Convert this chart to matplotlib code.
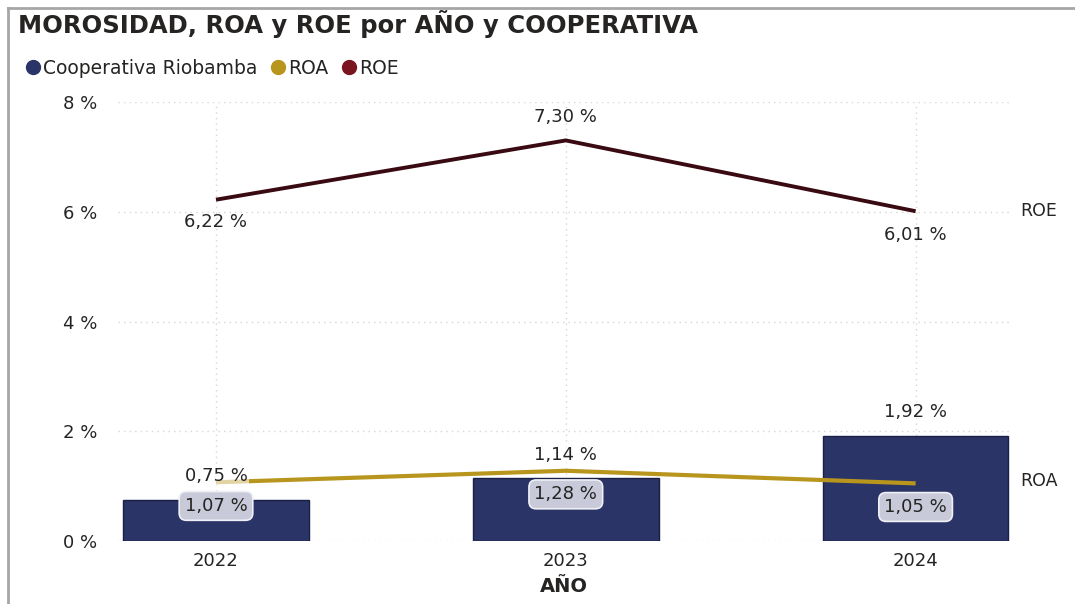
import matplotlib
matplotlib.use("Agg")
import matplotlib.pyplot as plt
from matplotlib.lines import Line2D

years = ["2022", "2023", "2024"]
morosidad = [0.75, 1.14, 1.92]
roa = [1.07, 1.28, 1.05]
roe = [6.22, 7.30, 6.01]
yticks = [0, 2, 4, 6, 8]

navy = "#2b3467"
gold = "#b8961e"
maroon = "#3a0a12"
txt = "#252423"

plt.rcParams['font.family'] = ['DejaVu Sans']


def pct(v):
    return f"{v:.2f} %".replace(".", ",")


fig = plt.figure(figsize=(10.75, 6.04), dpi=100)
ax = fig.add_axes([0.1098, 0.1043, 0.8298, 0.7268])

x = list(range(len(years)))

ax.bar(x, morosidad, width=0.53, color=navy, edgecolor="#1a1f45", linewidth=1, zorder=2)
ax.plot(x, roa, color=gold, lw=3, zorder=3, solid_capstyle="butt")
ax.plot(x, roe, color=maroon, lw=2.8, zorder=3, solid_capstyle="butt")

# bar labels above bars
for i, v in enumerate(morosidad):
    ax.annotate(pct(v), (i, v), xytext=(0, 17), textcoords="offset points",
                ha="center", va="center", fontsize=13, color=txt, zorder=4,
                bbox=dict(boxstyle="square,pad=0.1", fc="white", ec="none", alpha=0.6))

# ROA labels in rounded boxes
for i, v in enumerate(roa):
    ax.annotate(pct(v), (i, v), xytext=(0, -17), textcoords="offset points",
                ha="center", va="center", fontsize=13, color=txt, zorder=5,
                bbox=dict(boxstyle="round,pad=0.3,rounding_size=0.4", fc="#c8cad9",
                          ec="#eef0f6", lw=1.2))

# ROE labels
roe_off = [-16, 17, -17]
for i, v in enumerate(roe):
    ax.annotate(pct(v), (i, v), xytext=(0, roe_off[i]), textcoords="offset points",
                ha="center", va="center", fontsize=13, color=txt, zorder=4)

# series names at the right
ax.text(1.011, roe[-1], "ROE", transform=ax.get_yaxis_transform(),
        ha="left", va="center", fontsize=12.5, color=txt)
ax.text(1.011, roa[-1] + 0.05, "ROA", transform=ax.get_yaxis_transform(),
        ha="left", va="center", fontsize=12.5, color=txt)

ax.set_xlim(-0.28, 2.27)
ax.set_ylim(0, 8)
ax.set_xticks(x)
ax.set_xticklabels(years)
ax.set_yticks(yticks)
ax.set_yticklabels([f"{t} %" for t in yticks])
ax.tick_params(axis="both", length=0, labelsize=13, labelcolor=txt)
ax.tick_params(axis="y", pad=15)
ax.tick_params(axis="x", pad=8)
ax.grid(True, color="#d6d6d6", linestyle=(0, (1, 3)), lw=1, zorder=0)
ax.set_axisbelow(True)
for s in ax.spines.values():
    s.set_visible(False)
ax.set_xlabel("AÑO", fontsize=14, fontweight="bold", color=txt, labelpad=5)

fig.text(0.017, 0.96, "MOROSIDAD, ROA y ROE por AÑO y COOPERATIVA", fontsize=17.5,
         fontweight="bold", color=txt, ha="left", va="center")

handles = [Line2D([], [], ls="none", marker="o", ms=10, color=c)
           for c in (navy, gold, "#7a1520")]
fig.legend(handles, ["Cooperativa Riobamba", "ROA", "ROE"], loc="center left",
           bbox_to_anchor=(0.006, 0.887), ncol=3, frameon=False, fontsize=13.5,
           handletextpad=0.05, columnspacing=0.6, handlelength=1.0, labelcolor=txt)

# frame lines (top and left)
fig.add_artist(Line2D([8 / 1075, 1], [1 - 8 / 604] * 2, color="#a6a6a6", lw=2))
fig.add_artist(Line2D([8 / 1075] * 2, [0, 1 - 8 / 604], color="#a6a6a6", lw=2))

fig.savefig("out.png", dpi=100)
